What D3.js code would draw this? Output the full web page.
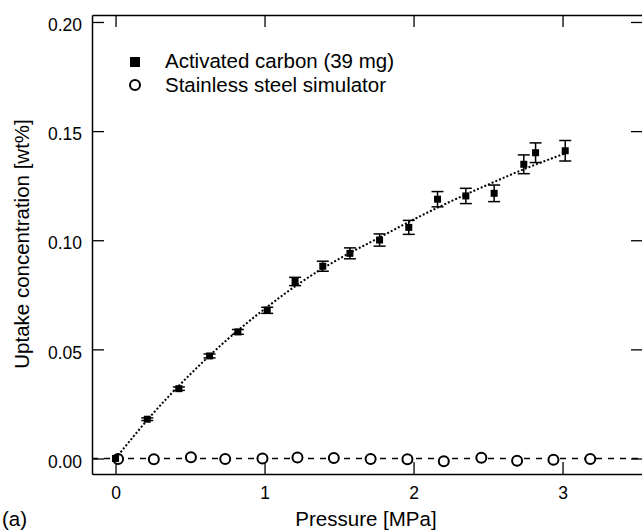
<!DOCTYPE html>
<html>
<head>
<meta charset="utf-8">
<script src="https://cdn.jsdelivr.net/npm/d3@7"></script>
<style>
  html, body { margin: 0; padding: 0; background: #fff; }
  svg { display: block; font-family: "Liberation Sans", Arial, sans-serif; }
</style>
</head>
<body>
<div id="chart"></div>
<script>
// Activated carbon (39 mg) measurements
const carbonP = [0, 0.213, 0.425, 0.631, 0.821, 1.018, 1.205, 1.391, 1.573, 1.772, 1.968, 2.161, 2.351, 2.541, 2.740, 2.819, 3.018];
const carbonU = [0, 0.0180, 0.0320, 0.0470, 0.0580, 0.0679, 0.0811, 0.0881, 0.0940, 0.1001, 0.1059, 0.1188, 0.1203, 0.1215, 0.1348, 0.1401, 0.1410];
const carbonErr = [0, 0.0006, 0.0008, 0.0009, 0.0011, 0.0014, 0.0019, 0.0023, 0.0025, 0.0028, 0.0032, 0.0035, 0.0035, 0.0038, 0.0043, 0.0045, 0.0047];

// dotted fit curve
const fitP = [0, 0.25, 0.5, 0.75, 1.0, 1.25, 1.5, 1.75, 2.0, 2.25, 2.5, 2.75, 3.018];
const fitU = [0, 0.0205, 0.0385, 0.0545, 0.0685, 0.081, 0.0915, 0.1005, 0.1095, 0.1178, 0.1255, 0.1328, 0.1398];

// Stainless steel simulator
const steelP = [0.017, 0.257, 0.506, 0.736, 0.986, 1.221, 1.465, 1.712, 1.959, 2.203, 2.455, 2.695, 2.939, 3.186];
const steelU = [-0.0002, -0.0003, 0.0006, -0.0002, 0, 0.0005, 0.0002, -0.0002, -0.0003, -0.0013, 0.0003, -0.001, -0.0006, -0.0002];

const xTicks = [0, 1, 2, 3];
const yTicks = [0, 0.05, 0.10, 0.15, 0.20];
const legendLabels = ['Activated carbon (39 mg)', 'Stainless steel simulator'];

const width = 642, height = 532;
const plot = { left: 92, right: 643, top: 15, bottom: 474 };

const svg = d3.select('#chart').append('svg')
  .attr('width', width)
  .attr('height', height);

const x = d3.scaleLinear().domain([-0.158, 3.54]).range([plot.left, plot.right]);
const y = d3.scaleLinear().domain([-0.0071, 0.2032]).range([plot.bottom, plot.top]);

const tickFont = '17.5px';
const titleFont = '20.5px';

// axes, ticks pointing inward
const bottomAxis = svg.append('g')
  .attr('transform', `translate(0,${plot.bottom})`)
  .call(d3.axisBottom(x).tickValues(xTicks).tickFormat(d3.format('d'))
    .tickSizeInner(-12).tickSizeOuter(0).tickPadding(13));

const topAxis = svg.append('g')
  .attr('transform', `translate(0,${plot.top})`)
  .call(d3.axisTop(x).tickValues(xTicks).tickFormat('')
    .tickSizeInner(-12).tickSizeOuter(0));

const leftAxis = svg.append('g')
  .attr('transform', `translate(${plot.left},0)`)
  .call(d3.axisLeft(y).tickValues(yTicks).tickFormat(d3.format('.2f'))
    .tickSizeInner(-12).tickSizeOuter(0).tickPadding(10));

const rightAxis = svg.append('g')
  .attr('transform', `translate(${plot.right},0)`)
  .call(d3.axisRight(y).tickValues(yTicks).tickFormat('')
    .tickSizeInner(-12).tickSizeOuter(0));

[bottomAxis, topAxis, leftAxis, rightAxis].forEach(g => {
  g.select('.domain').attr('stroke', '#000').attr('stroke-width', 1.5);
  g.selectAll('.tick line').attr('stroke', '#000').attr('stroke-width', 1.3);
  g.selectAll('.tick text')
    .attr('fill', '#000')
    .style('font-size', tickFont)
    .style('font-family', '"Liberation Sans", Arial, sans-serif');
});
leftAxis.selectAll('.tick text').attr('dy', '0.5em');

// zero baseline (dashed)
svg.append('line')
  .attr('x1', plot.left).attr('x2', plot.right)
  .attr('y1', y(0)).attr('y2', y(0))
  .attr('stroke', '#000')
  .attr('stroke-width', 1.3)
  .attr('stroke-dasharray', '6,6');

// stainless steel circles
svg.append('g').selectAll('circle')
  .data(steelP.map((p, i) => ({ p, u: steelU[i] })))
  .enter().append('circle')
  .attr('cx', d => x(d.p))
  .attr('cy', d => y(d.u))
  .attr('r', 5)
  .attr('fill', '#fff')
  .attr('stroke', '#000')
  .attr('stroke-width', 2);

// fit curve (dotted)
const fitLine = d3.line()
  .x(d => x(d[0]))
  .y(d => y(d[1]))
  .curve(d3.curveMonotoneX);

svg.append('path')
  .datum(fitP.map((p, i) => [p, fitU[i]]))
  .attr('fill', 'none')
  .attr('stroke', '#000')
  .attr('stroke-width', 2)
  .attr('stroke-dasharray', '2,2')
  .attr('d', fitLine);

// activated carbon error bars + squares
const carbon = carbonP.map((p, i) => ({ p, u: carbonU[i], e: carbonErr[i] }));
const errG = svg.append('g').attr('stroke', '#000').attr('stroke-width', 1.5);
carbon.filter(d => d.e > 0).forEach(d => {
  const cx = x(d.p), y1 = y(d.u + d.e), y2 = y(d.u - d.e);
  errG.append('line').attr('x1', cx).attr('x2', cx).attr('y1', y1).attr('y2', y2);
  errG.append('line').attr('x1', cx - 6).attr('x2', cx + 6).attr('y1', y1).attr('y2', y1);
  errG.append('line').attr('x1', cx - 6).attr('x2', cx + 6).attr('y1', y2).attr('y2', y2);
});

svg.append('g').selectAll('rect')
  .data(carbon)
  .enter().append('rect')
  .attr('x', d => x(d.p) - 3.5)
  .attr('y', d => y(d.u) - 3.5)
  .attr('width', 7)
  .attr('height', 7)
  .attr('fill', '#000');

// legend
const legend = svg.append('g');
legend.append('rect')
  .attr('x', 130).attr('y', 57).attr('width', 10).attr('height', 10)
  .attr('fill', '#000');
legend.append('circle')
  .attr('cx', 135).attr('cy', 85).attr('r', 5)
  .attr('fill', '#fff').attr('stroke', '#000').attr('stroke-width', 2);
legend.selectAll('text')
  .data(legendLabels)
  .enter().append('text')
  .attr('x', 165)
  .attr('y', (d, i) => 68 + i * 23.5)
  .style('font-size', titleFont)
  .text(d => d);

// axis titles
svg.append('text')
  .attr('x', 366)
  .attr('y', 526)
  .attr('text-anchor', 'middle')
  .style('font-size', titleFont)
  .text('Pressure [MPa]');

svg.append('text')
  .attr('transform', 'translate(29,244) rotate(-90)')
  .attr('text-anchor', 'middle')
  .style('font-size', titleFont)
  .text('Uptake concentration [wt%]');

svg.append('text')
  .attr('x', 2)
  .attr('y', 526)
  .style('font-size', titleFont)
  .text('(a)');
</script>
</body>
</html>
